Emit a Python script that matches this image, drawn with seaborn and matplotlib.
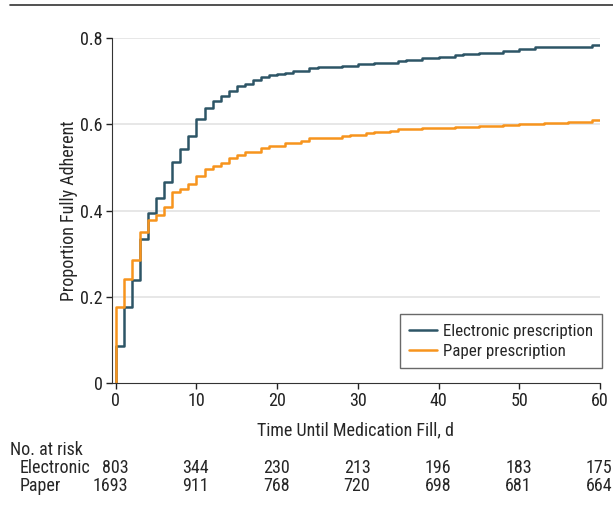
import numpy as np
import pandas as pd
import seaborn as sns
import matplotlib.pyplot as plt
import matplotlib.transforms as mtransforms

sns.set_style("ticks")
plt.rcParams['font.family'] = ['Roboto Condensed', 'Roboto', 'DejaVu Sans']

# day at which each step occurs and proportion after the step
elec_days = [0, 0, 1, 2, 3, 4, 5, 6, 7, 8, 9, 10, 11, 12, 13, 14, 15, 16, 17, 18, 19,
             20, 21, 22, 24, 25, 28, 30, 32, 35, 36, 38, 40, 42, 43, 45, 48, 50, 52, 58, 59, 60]
elec_prop = [0, 0.085, 0.176, 0.238, 0.334, 0.395, 0.429, 0.466, 0.513, 0.543, 0.573,
             0.612, 0.637, 0.653, 0.666, 0.678, 0.688, 0.694, 0.703, 0.710, 0.715,
             0.717, 0.720, 0.724, 0.730, 0.733, 0.736, 0.739, 0.743, 0.746, 0.750,
             0.753, 0.757, 0.760, 0.762, 0.765, 0.771, 0.774, 0.778, 0.780, 0.783, 0.783]
paper_days = [0, 0, 1, 2, 3, 4, 5, 6, 7, 8, 9, 10, 11, 12, 13, 14, 15, 16, 18, 19,
              21, 23, 24, 28, 29, 31, 32, 34, 35, 38, 42, 45, 48, 50, 53, 56, 59, 60]
paper_prop = [0, 0.176, 0.241, 0.286, 0.351, 0.377, 0.390, 0.407, 0.442, 0.451, 0.462,
              0.481, 0.497, 0.503, 0.511, 0.521, 0.528, 0.535, 0.545, 0.549,
              0.556, 0.562, 0.567, 0.572, 0.576, 0.579, 0.582, 0.585, 0.589, 0.591,
              0.593, 0.595, 0.598, 0.601, 0.603, 0.606, 0.609, 0.609]

groups = ["Electronic prescription", "Paper prescription"]
colors = ["#2D5566", "#F7941D"]

risk_times = [0, 10, 20, 30, 40, 50, 60]
risk_elec = [803, 344, 230, 213, 196, 183, 175]
risk_paper = [1693, 911, 768, 720, 698, 681, 664]

df = pd.concat([
    pd.DataFrame({"day": elec_days, "prop": elec_prop, "group": groups[0]}),
    pd.DataFrame({"day": paper_days, "prop": paper_prop, "group": groups[1]}),
])

W, H = 613, 518
fs = 13
fig = plt.figure(figsize=(W / 100, H / 100), dpi=100)
ax = fig.add_axes([111.7 / W, 1 - 383 / H, (600 - 111.7) / W, 345 / H])

for y in [0.2, 0.4, 0.6, 0.8]:
    ax.axhline(y, color="#e3e3e3", lw=1.2, zorder=0)

sns.lineplot(data=df, x="day", y="prop", hue="group", palette=colors,
             drawstyle="steps-post", estimator=None, lw=1.8, ax=ax)

ax.set_xlim(-0.5, 60)
ax.set_ylim(0, 0.8)
ax.set_xticks(risk_times)
ax.set_yticks([0, 0.2, 0.4, 0.6, 0.8])
ax.set_yticklabels(["0", "0.2", "0.4", "0.6", "0.8"])
ax.tick_params(labelsize=fs, colors="#222222", length=4, width=1, pad=2.5)
ax.set_xlabel("Time Until Medication Fill, d", fontsize=fs, labelpad=8)
ax.set_ylabel("Proportion Fully Adherent", fontsize=fs, labelpad=1.5)
sns.despine(ax=ax)
for s in ["left", "bottom"]:
    ax.spines[s].set_color("#333333")

leg = ax.legend(loc="lower right", bbox_to_anchor=(1.004, 0.043), borderaxespad=0,
                fontsize=12.2, frameon=True, fancybox=False, edgecolor="#444444",
                handlelength=1.6, handletextpad=0.35, borderpad=0.55, labelspacing=0.3)
leg.get_frame().set_linewidth(1)

# number at risk table
trans = mtransforms.blended_transform_factory(ax.transData, fig.transFigure)
fig.text(10 / W, 1 - 450 / H, "No. at risk", fontsize=fs, va="center")
fig.text(20 / W, 1 - 468 / H, "Electronic", fontsize=fs, va="center")
fig.text(20 / W, 1 - 486 / H, "Paper", fontsize=fs, va="center")
for t, e, p in zip(risk_times, risk_elec, risk_paper):
    ax.text(t + 1.55, 1 - 468 / H, str(e), transform=trans, ha="right",
            va="center", fontsize=fs)
    ax.text(t + 1.55, 1 - 486 / H, str(p), transform=trans, ha="right",
            va="center", fontsize=fs)

fig.add_artist(plt.Line2D([10 / W, 1], [1 - 5 / H, 1 - 5 / H],
                          color="#333333", lw=1.2, transform=fig.transFigure))

fig.savefig("out.png", dpi=100)
